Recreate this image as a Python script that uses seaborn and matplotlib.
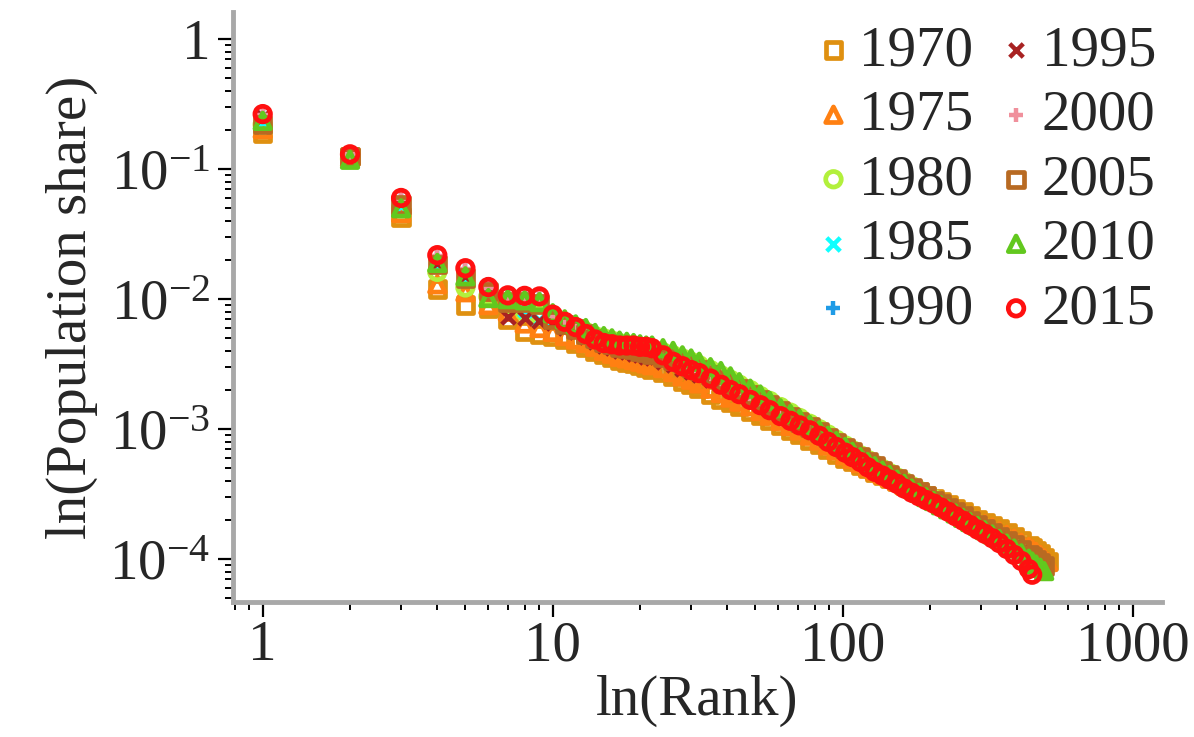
import numpy as np
import pandas as pd
import matplotlib
matplotlib.use("Agg")
import matplotlib.pyplot as plt
import seaborn as sns

# ---------------- data (population share in units of 1e-4) ----------------
RANKS = list(range(1, 23)) + [24, 26, 28, 30, 32, 35, 38, 41, 44, 48,
                              52, 56, 61, 66, 71, 77, 83, 89, 95,
                              102, 108, 115, 122, 129, 137, 145, 154, 163, 173,
                              183, 194, 206, 218, 231, 245, 260, 275, 292, 309,
                              328, 347, 368, 390, 413, 438, 450, 464, 480, 495, 510]

Y1970 = [1890, 1250, 427, 120, 90, 85, 70, 57, 54, 52, 49, 46, 43, 40, 38, 36, 34, 33, 32, 31, 30, 29,
         27.5, 25.5, 23.5, 22, 20.5, 18.5, 17, 16, 15, 13.8, 12.8, 11.8, 10.7, 9.8, 9.1, 8.2, 7.6, 7.0, 6.4,
         6.0, 5.65, 5.3, 5.0, 4.7, 4.45, 4.2, 3.95, 3.7, 3.5, 3.3, 3.1, 2.9, 2.75, 2.6, 2.45, 2.3, 2.15,
         2.02, 1.9, 1.8, 1.7, 1.6, 1.49, 1.38, 1.27, 1.22, 1.17, 1.1, 1.03, 0.96]
Y1975 = [2030, 1220, 460, 130, 113, 90, 80, 65, 60, 56, 52, 49, 46, 43, 40, 38, 36, 35, 34, 33, 32, 31,
         29.5, 27.5, 25.5, 24, 22.5, 20.5, 19, 17.5, 16.3, 15, 13.8, 12.7, 11.6, 10.6, 9.8, 8.9, 8.2, 7.5, 6.9,
         6.3, 5.9, 5.5, 5.1, 4.8, 4.5, 4.25, 3.98, 3.72, 3.5, 3.28, 3.08, 2.88, 2.72, 2.56, 2.4, 2.25, 2.11,
         1.98, 1.86, 1.75, 1.64, 1.54, 1.44, 1.34, 1.24, 1.19, 1.14, 1.08, 1.02, 0.95]
Y1980 = [2200, 1200, 500, 162, 123, 105, 90, 80, 75, 70, 65, 60, 56, 52, 50, 48, 46, 45, 44, 43, 42, 41,
         39, 37, 35, 33, 31, 28.5, 26, 24, 22, 20, 18, 16.5, 14.8, 13.4, 12.2, 11.0, 10.0, 9.1, 8.3,
         7.5, 6.9, 6.3, 5.8, 5.35, 4.95, 4.6, 4.25, 3.95, 3.65, 3.38, 3.12, 2.9, 2.7, 2.5, 2.33, 2.16, 2.0,
         1.86, 1.73, 1.61, 1.49, 1.38, 1.27, 1.16, 1.06, 1.01, 0.96, 0.9, 0.85]
Y1985 = [2300, 1250, 520, 180, 140, 110, 95, 82, 69, 68, 62, 58, 53, 49, 46, 44, 42, 41, 40, 39, 38, 37,
         35, 33, 31, 29, 27.5, 25, 23, 21, 19.5, 17.8, 16.2, 14.8, 13.3, 12.1, 11.1, 10.1, 9.2, 8.4, 7.7,
         7.0, 6.5, 6.0, 5.5, 5.1, 4.7, 4.4, 4.05, 3.75, 3.47, 3.22, 2.98, 2.77, 2.58, 2.4, 2.23, 2.07, 1.92,
         1.79, 1.67, 1.55, 1.44, 1.33, 1.23, 1.13, 1.03, 0.98, 0.93, 0.88, 0.84]
Y1990 = [2600, 1300, 580, 210, 168, 130, 105, 103, 102, 75, 68, 62, 51, 47, 45, 43, 42, 41, 40, 39, 38, 37,
         35, 33, 31, 29, 27.5, 25, 23, 21, 19.5, 17.6, 16, 14.6, 13.1, 12, 11, 10, 9.1, 8.3, 7.6,
         6.9, 6.4, 5.9, 5.4, 5.0, 4.65, 4.3, 4.0, 3.7, 3.42, 3.17, 2.94, 2.73, 2.54, 2.36, 2.19, 2.03, 1.89,
         1.76, 1.64, 1.52, 1.41, 1.3, 1.2, 1.1, 1.0, 0.95, 0.9, 0.86, 0.82]
Y1995 = [2500, 1280, 550, 190, 150, 115, 73, 71, 68, 66, 60, 56, 51, 47, 44, 42, 40, 39, 38, 37, 36, 35,
         33, 31, 29, 27.5, 26, 24, 22, 20.5, 19, 17.3, 15.8, 14.5, 13, 11.9, 10.9, 9.9, 9.1, 8.3, 7.6,
         6.9, 6.4, 5.9, 5.45, 5.05, 4.7, 4.35, 4.05, 3.75, 3.47, 3.22, 2.99, 2.78, 2.58, 2.4, 2.23, 2.07, 1.93,
         1.8, 1.68, 1.56, 1.45, 1.34, 1.24, 1.14, 1.04, 0.99, 0.94, 0.89, 0.85]
Y2000 = [2620, 1300, 590, 215, 170, 122, 104, 104, 103, 74, 66, 60, 53, 48, 45, 44, 43, 43, 43, 42, 42, 41,
         37, 34, 31.5, 29.5, 28, 25.5, 23, 21, 19.4, 17.5, 16, 14.6, 13.2, 12.1, 11.1, 10.1, 9.2, 8.4, 7.6,
         6.9, 6.4, 5.85, 5.35, 4.95, 4.6, 4.28, 3.95, 3.65, 3.38, 3.15, 2.93, 2.73, 2.55, 2.37, 2.2, 2.04, 1.89,
         1.75, 1.63, 1.51, 1.4, 1.29, 1.18, 1.08, 0.98, 0.93, 0.88, 0.83]
Y2005 = [2200, 1250, 530, 185, 145, 115, 95, 95, 92, 70, 64, 59, 54, 50, 47, 45, 43, 42, 41, 40, 39, 38,
         36, 34, 32, 30, 28.5, 26, 24, 22, 20.3, 18.4, 16.8, 15.3, 13.8, 12.5, 11.4, 10.4, 9.5, 8.6, 7.9,
         7.2, 6.65, 6.1, 5.6, 5.2, 4.8, 4.45, 4.12, 3.82, 3.55, 3.3, 3.06, 2.84, 2.65, 2.47, 2.3, 2.14, 1.99,
         1.85, 1.73, 1.61, 1.5, 1.39, 1.29, 1.19, 1.09, 1.04, 0.99, 0.94, 0.89]
Y2010 = [2350, 1180, 500, 190, 150, 102, 100, 98, 95, 78, 70, 64, 60, 55, 52, 50, 48, 47, 46, 45, 44, 44,
         42, 40, 37, 35, 33, 30, 28, 25.5, 23, 20.5, 18.5, 16.5, 14.5, 13.1, 12.0, 10.8, 9.8, 8.9, 8.1,
         7.3, 6.7, 6.1, 5.6, 5.2, 4.8, 4.45, 4.1, 3.8, 3.5, 3.25, 3.0, 2.8, 2.6, 2.42, 2.25, 2.08, 1.93,
         1.8, 1.67, 1.55, 1.43, 1.32, 1.21, 1.11, 1.01, 0.96, 0.91, 0.86, 0.81]
Y2015 = [2650, 1300, 600, 218, 173, 124, 107, 106, 105, 76, 67, 61, 54, 49, 46, 45, 44, 44, 44, 43, 43, 42,
         37, 33, 30.5, 28.5, 27, 24.5, 22, 20, 18.6, 16.8, 15.3, 14, 12.6, 11.6, 10.7, 9.8, 8.9, 8.0, 7.3,
         6.6, 6.1, 5.6, 5.1, 4.7, 4.4, 4.1, 3.8, 3.5, 3.25, 3.05, 2.85, 2.68, 2.5, 2.32, 2.14, 1.98, 1.83,
         1.69, 1.57, 1.45, 1.33, 1.2, 1.08, 0.97, 0.84, 0.76]

YEARS = [1970, 1975, 1980, 1985, 1990, 1995, 2000, 2005, 2010, 2015]
SERIES = [Y1970, Y1975, Y1980, Y1985, Y1990, Y1995, Y2000, Y2005, Y2010, Y2015]

X_TICKS = [1, 10, 100, 1000]
X_TICKLABELS = ["1", "10", "100", "1000"]
Y_TICKS = [1, 1e-1, 1e-2, 1e-3, 1e-4]
Y_TICKLABELS = ["1", r"$10^{-1}$", r"$10^{-2}$", r"$10^{-3}$", r"$10^{-4}$"]

# ---------------- styles ----------------
COLORS = ["#DF9010", "#FF8012", "#B2F03C", "#10FFFF", "#1F9BE6",
          "#A82222", "#F0909C", "#B86A22", "#62C81E", "#FF1010"]
MARKERS = ["s", "^", "o", "x", "+", "x", "+", "s", "^", "o"]

sns.set_style("ticks")
plt.rcParams["font.family"] = ["Liberation Serif", "DejaVu Serif"]
plt.rcParams["mathtext.fontset"] = "custom"
plt.rcParams["mathtext.rm"] = "Liberation Serif"
plt.rcParams["mathtext.it"] = "Liberation Serif:italic"
plt.rcParams["mathtext.bf"] = "Liberation Serif:bold"

frames = []
for yr, vals in zip(YEARS, SERIES):
    frames.append(pd.DataFrame({"year": str(yr),
                                "rank": RANKS[:len(vals)],
                                "share": np.array(vals, dtype=float) * 1e-4}))
df = pd.concat(frames, ignore_index=True)

FS = 41
fig = plt.figure(figsize=(11.94, 7.37), dpi=100)
ax = fig.add_axes([0.195, 0.183, 0.778, 0.801])

for yr, col, mk in zip(YEARS, COLORS, MARKERS):
    d = df[df["year"] == str(yr)]
    if mk in ("x", "+"):
        sns.scatterplot(data=d, x="rank", y="share", marker=mk, color=col,
                        s=95, linewidth=3.2, ax=ax, label=str(yr))
    else:
        sns.scatterplot(data=d, x="rank", y="share", marker=mk, color=col,
                        facecolor="none", edgecolor=col,
                        s=125, linewidth=3.4, ax=ax, label=str(yr))

ax.set_xscale("log")
ax.set_yscale("log")
ax.set_xlim(10 ** -0.103, 10 ** 3.1)
ax.set_ylim(10 ** -4.33, 10 ** 0.21)
ax.set_xticks(X_TICKS, labels=X_TICKLABELS)
ax.set_yticks(Y_TICKS, labels=Y_TICKLABELS)

for side in ("top", "right"):
    ax.spines[side].set_visible(False)
for side in ("left", "bottom"):
    ax.spines[side].set_color("#a8a8a8")
    ax.spines[side].set_linewidth(3.5)

ax.tick_params(which="major", length=11, width=1.6, color="black",
               labelsize=FS, direction="out")
ax.tick_params(which="minor", length=6, width=1.4, color="black", direction="out")
ax.tick_params(axis="x", which="major", pad=2)
ax.tick_params(axis="y", which="major", pad=5)

ax.set_xlabel("ln(Rank)", fontsize=FS, labelpad=2)
ax.set_ylabel("ln(Population share)", fontsize=FS, labelpad=8)

ax.legend(loc="upper right", bbox_to_anchor=(1.0, 0.987), ncol=2, frameon=False,
          fontsize=FS, handlelength=0.6, handletextpad=0.15, columnspacing=0.45,
          borderaxespad=0.0, labelspacing=0.22, borderpad=0.1)

fig.savefig("out.png", dpi=100)
